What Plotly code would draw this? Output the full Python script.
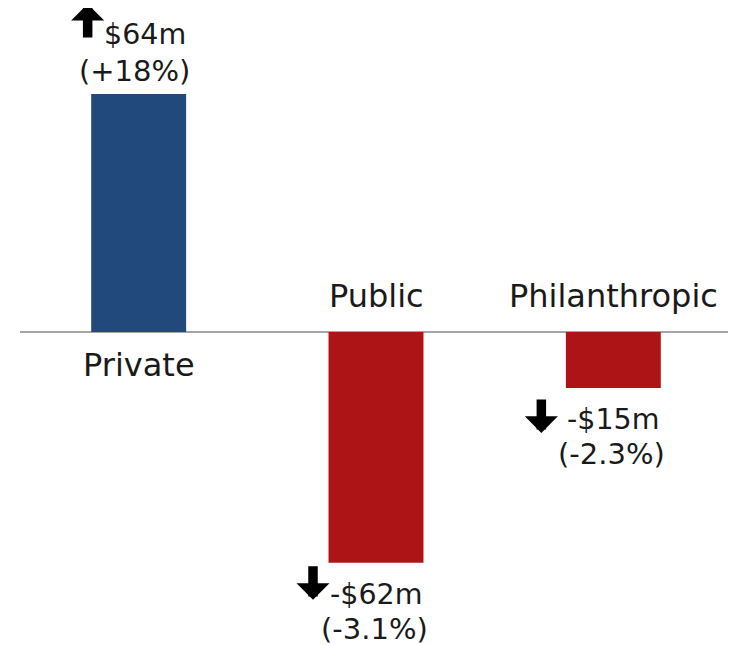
import plotly.graph_objects as go

categories = ["Private", "Public", "Philanthropic"]
changes = [64, -62, -15]  # change in $m
value_labels = ["$64m", "-$62m", "-$15m"]
pct_labels = ["(+18%)", "(-3.1%)", "(-2.3%)"]

BLUE = "#21497c"
RED = "#ad1416"
TEXT = "#1a1a1a"
FONT = "DejaVu Sans, Verdana, sans-serif"

colors = [BLUE if v > 0 else RED for v in changes]

fig = go.Figure(
    go.Bar(
        x=categories,
        y=changes,
        width=0.4,
        marker={"color": colors, "line": {"width": 0}},
        hoverinfo="skip",
    )
)

for cat, val, vlab, plab in zip(categories, changes, value_labels, pct_labels):
    up = val > 0
    # category name on the opposite side of the zero line
    fig.add_annotation(
        x=cat, y=0, text=cat, showarrow=False,
        yanchor="middle", yshift=-33 if up else 36,
        font={"size": 32, "color": TEXT},
    )
    # value + percentage labels at the end of the bar
    fig.add_annotation(
        x=cat, y=val, text=vlab, showarrow=False,
        yanchor="middle", xshift=6 if up else 0, yshift=59 if up else -32,
        font={"size": 28.5, "color": TEXT},
    )
    fig.add_annotation(
        x=cat, y=val, text=plab, showarrow=False,
        yanchor="middle", xshift=-4 if up else -2, yshift=23 if up else -66,
        font={"size": 29, "color": TEXT},
    )
    # direction arrow
    fig.add_annotation(
        x=cat, y=val, text="", showarrow=True,
        xshift=-51 if up else (-63 if val < -30 else -72),
        yshift=90 if up else (-37 if val < -30 else -45),
        ax=0, ay=35 if up else -35,
        arrowhead=1, arrowwidth=9.5, arrowsize=0.58, arrowcolor="#000000",
    )

# the page body adds an 8px offset, so the margins make up for it
fig.update_layout(
    width=736,
    height=645,
    margin={"l": 12, "r": 12, "t": 0, "b": 8},
    paper_bgcolor="white",
    plot_bgcolor="white",
    showlegend=False,
    font={"family": FONT, "color": TEXT},
)
fig.update_xaxes(visible=False, range=[-0.5, 2.5])
fig.update_yaxes(
    range=[-84.1, 87.1],
    showgrid=False,
    showticklabels=False,
    showline=False,
    zeroline=True,
    zerolinecolor="#a6a6a6",
    zerolinewidth=1.5,
)

fig.write_html("out.html")
